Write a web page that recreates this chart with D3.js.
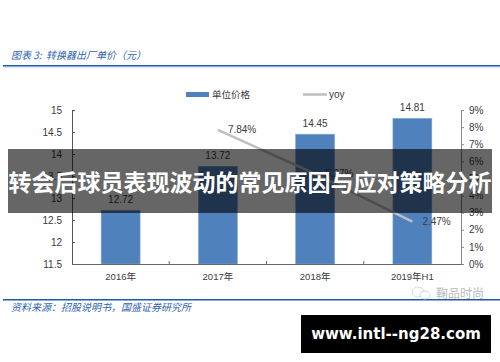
<!DOCTYPE html>
<html>
<head>
<meta charset="utf-8">
<script src="https://cdn.jsdelivr.net/npm/d3@7"></script>
<style>
  html, body { margin: 0; padding: 0; background: #fff; }
  text { font-family: "Liberation Sans", "Noto Sans CJK SC", sans-serif; }
  .cjk { font-family: "Noto Sans CJK SC", sans-serif; }
</style>
</head>
<body>
<div id="chart"></div>
<script>
// chart data
const categories = ["2016年", "2017年", "2018年", "2019年H1"];
const prices = [12.72, 13.72, 14.45, 14.81];
const yoyCategories = ["2017年", "2018年", "2019年H1"];
const yoy = [7.84, 5.27, 2.47];
const priceTicks = [11.5, 12, 12.5, 13, 13.5, 14, 14.5, 15];
const yoyTicks = [0, 1, 2, 3, 4, 5, 6, 7, 8, 9];

const TITLE = "图表 3:  转换器出厂单价（元）";
const SOURCE = "资料来源：招股说明书，国盛证券研究所";
const BANNER = "转会后球员表现波动的常见原因与应对策略分析";
const URL_TEXT = "www.intl--ng28.com";
const WATERMARK = "鞠品时尚";

const WIDTH = 500;
const HEIGHT = 362;
const MARGIN = { top: 110, right: 39, bottom: 98, left: 72 };
const TEXT_COLOR = "#3a3a3a";
const BLUE = "#1f5aa8";

const svg = d3
  .select("#chart")
  .append("svg")
  .attr("width", WIDTH)
  .attr("height", HEIGHT)
  .style("display", "block");

// scales
const x = d3
  .scaleBand()
  .domain(categories)
  .range([MARGIN.left, WIDTH - MARGIN.right])
  .paddingInner(0.6)
  .paddingOuter(0.3);
const y = d3
  .scaleLinear()
  .domain([11.5, 15])
  .range([HEIGHT - MARGIN.bottom, MARGIN.top]);
const yRight = d3
  .scaleLinear()
  .domain([0, 9])
  .range([HEIGHT - MARGIN.bottom, MARGIN.top]);
const center = (d) => x(d) + x.bandwidth() / 2;

// header and footer rules
[66, 300].forEach((ruleY) => {
  svg.append("rect").attr("x", 3).attr("y", ruleY - 1).attr("width", 497).attr("height", 1.5).attr("fill", BLUE);
});
svg.append("rect").attr("x", 3).attr("y", 67).attr("width", 497).attr("height", 1).attr("fill", "#dce6f2");

svg.append("text")
  .attr("class", "cjk")
  .attr("x", 11)
  .attr("y", 59)
  .attr("font-size", 10)
  .attr("font-style", "italic")
  .attr("fill", "#2f65ad")
  .attr("xml:space", "preserve")
  .text(TITLE);

svg.append("text")
  .attr("class", "cjk")
  .attr("x", 11)
  .attr("y", 311)
  .attr("font-size", 10)
  .attr("font-style", "italic")
  .attr("fill", "#2f65ad")
  .text(SOURCE);

// legend
svg.append("rect").attr("x", 186).attr("y", 92).attr("width", 23).attr("height", 5).attr("fill", "#4f81bd");
svg.append("text").attr("x", 212).attr("y", 98).attr("font-size", 9.5).attr("fill", TEXT_COLOR).text("单位价格");
svg.append("line").attr("x1", 303).attr("x2", 327).attr("y1", 94.5).attr("y2", 94.5).attr("stroke", "#bfbfbf").attr("stroke-width", 2.5);
svg.append("text").attr("x", 329).attr("y", 98).attr("font-size", 10).attr("fill", TEXT_COLOR).text("yoy");

// bars
svg.append("g")
  .selectAll("rect")
  .data(prices)
  .join("rect")
  .attr("x", (d, i) => x(categories[i]))
  .attr("y", (d) => y(d))
  .attr("width", x.bandwidth())
  .attr("height", (d) => y(11.5) - y(d))
  .attr("fill", "#4f81bd")
  .attr("stroke", "#7ea6d6")
  .attr("stroke-width", 0.6);

svg.append("g")
  .selectAll("text")
  .data(prices)
  .join("text")
  .attr("x", (d, i) => center(categories[i]))
  .attr("y", (d) => y(d) - 7)
  .attr("text-anchor", "middle")
  .attr("font-size", 10)
  .attr("fill", TEXT_COLOR)
  .text((d) => d.toFixed(2));

// left axis
const leftAxis = svg
  .append("g")
  .attr("transform", `translate(${MARGIN.left},0)`)
  .call(d3.axisLeft(y).tickValues(priceTicks).tickSize(-3).tickPadding(10).tickFormat((d) => String(d)));
leftAxis.selectAll("path, line").attr("stroke", "#555");
leftAxis.selectAll("text").attr("font-size", 10).attr("font-family", null).attr("fill", TEXT_COLOR);

// right axis
const rightAxis = svg
  .append("g")
  .attr("transform", `translate(${WIDTH - MARGIN.right},0)`)
  .call(d3.axisRight(yRight).tickValues(yoyTicks).tickSize(3).tickPadding(5).tickFormat((d) => d + "%"));
rightAxis.selectAll("path, line").attr("stroke", "#888");
rightAxis.selectAll("text").attr("font-size", 10).attr("font-family", null).attr("fill", TEXT_COLOR);

// bottom axis, ticks sit on the category boundaries
const bottomAxis = svg
  .append("g")
  .attr("transform", `translate(0,${HEIGHT - MARGIN.bottom})`)
  .call(d3.axisBottom(x).tickSize(0).tickPadding(9));
bottomAxis.select(".domain").attr("stroke", "#666");
bottomAxis.selectAll("text").attr("font-size", 9.5).attr("font-family", null).attr("fill", TEXT_COLOR);
bottomAxis
  .selectAll(".sep")
  .data(categories.slice(1))
  .join("line")
  .attr("class", "sep")
  .attr("x1", (d) => x(d) - (x.step() - x.bandwidth()) / 2)
  .attr("x2", (d) => x(d) - (x.step() - x.bandwidth()) / 2)
  .attr("y1", 0)
  .attr("y2", -3)
  .attr("stroke", "#666");

// yoy line
const valueLine = d3
  .line()
  .x((d, i) => center(yoyCategories[i]))
  .y((d) => yRight(d));

svg.append("path")
  .datum(yoy)
  .attr("d", valueLine)
  .attr("fill", "none")
  .attr("stroke", "#bfbfbf")
  .attr("stroke-width", 2.5);

svg.append("g")
  .selectAll("text")
  .data(yoy)
  .join("text")
  .attr("x", (d, i) => center(yoyCategories[i]) + 10)
  .attr("y", (d) => yRight(d) + 3.5)
  .attr("font-size", 10)
  .attr("fill", TEXT_COLOR)
  .text((d) => d.toFixed(2) + "%");

// watermark
const mark = svg.append("g").attr("fill", "#fff").attr("stroke", "#ccc").attr("stroke-width", 0.8);
mark.append("ellipse").attr("cx", 418).attr("cy", 292).attr("rx", 6).attr("ry", 5);
mark.append("ellipse").attr("cx", 425).attr("cy", 295).attr("rx", 5).attr("ry", 4);
svg.append("text")
  .attr("class", "cjk")
  .attr("x", 436)
  .attr("y", 298)
  .attr("font-size", 12)
  .attr("fill", "#bbb")
  .text(WATERMARK);

// banner over the chart
svg.append("rect")
  .attr("x", 8)
  .attr("y", 149)
  .attr("width", 484)
  .attr("height", 64)
  .attr("fill", "#000")
  .attr("fill-opacity", 0.6);
svg.append("text")
  .attr("class", "cjk")
  .attr("x", 250)
  .attr("y", 191)
  .attr("text-anchor", "middle")
  .attr("font-size", 23)
  .attr("font-weight", 700)
  .attr("fill", "#fff")
  .text(BANNER);

// url box
svg.append("rect").attr("x", 301).attr("y", 315).attr("width", 190).attr("height", 38).attr("fill", "#000");
svg.append("text")
  .attr("x", 396)
  .attr("y", 339)
  .attr("text-anchor", "middle")
  .attr("font-size", 15)
  .attr("font-weight", 700)
  .attr("fill", "#fff")
  .style("font-family", "'DejaVu Sans', sans-serif")
  .text(URL_TEXT);
</script>
</body>
</html>
